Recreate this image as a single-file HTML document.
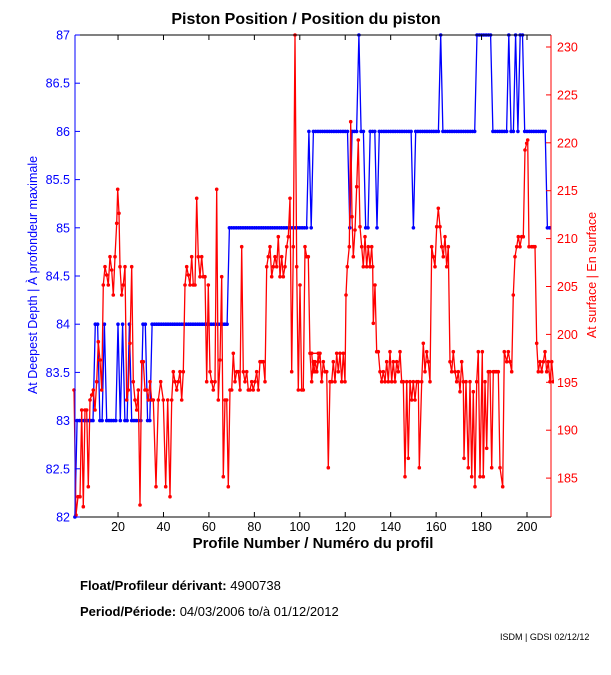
<!DOCTYPE html>
<html><head><meta charset="utf-8"><style>
body{margin:0;background:#fff;width:611px;height:675px;overflow:hidden}
svg{position:absolute;left:0;top:0}
text{font-family:"Liberation Sans",sans-serif}
</style></head><body>
<svg id="s" width="611" height="675" xmlns="http://www.w3.org/2000/svg">
<text x="306" y="24" text-anchor="middle" font-size="16" font-weight="bold">Piston Position / Position du piston</text>
<text x="313" y="548" text-anchor="middle" font-size="15" font-weight="bold">Profile Number / Numéro du profil</text>
<text transform="translate(37,275) rotate(-90)" text-anchor="middle" font-size="12.5" fill="#00f">At Deepest Depth | À profondeur maximale</text>
<text transform="translate(596,275) rotate(-90)" text-anchor="middle" font-size="12.5" fill="#f00">At surface | En surface</text>
<text x="80" y="590" font-size="13" font-weight="bold">Float/Profileur dérivant: <tspan font-weight="normal">4900738</tspan></text>
<text x="80" y="616" font-size="13" font-weight="bold">Period/Période: <tspan font-weight="normal"> 04/03/2006  to/à  01/12/2012</tspan></text>
<text x="500" y="640" font-size="9">ISDM | GDSI 02/12/12</text>
<g id="g"></g>
</svg>
<script>
var g=document.getElementById('g'),NS="http://www.w3.org/2000/svg",h="";
var L=75,R=551,T=35,B=517;
h+='<defs><clipPath id="c"><rect x="'+(L-3)+'" y="'+(T-3)+'" width="'+(R-L+6)+'" height="'+(B-T+6)+'"/></clipPath></defs>';
function px(p){return 72.6+2.272*p}
function by(v){return 517-(v-82)*96.4}
// blue
var bv={};var segs=[[1,1,82],[2,9,83],[10,11,84],[12,13,83],[14,14,84],[15,19,83],[20,20,84],[21,21,83],[22,22,84],[23,24,83],[25,25,84],[26,30,83],[31,32,84],[33,34,83],[35,68,84],[69,103,85],[104,104,86],[105,105,85],[106,121,86],[122,122,85],[123,125,86],[126,126,87],[127,128,86],[129,130,85],[131,133,86],[134,134,85],[135,149,86],[150,150,85],[151,161,86],[162,162,87],[163,177,86],[178,184,87],[185,191,86],[192,192,87],[193,194,86],[195,195,87],[196,196,86],[197,198,87],[199,208,86],[209,210,85]];
var bp=[];segs.forEach(function(s){for(var p=s[0];p<=s[1];p++)bp.push([px(p),by(s[2])])});
var r1=[[12,1080],[18,1455],[24,1400],[30,1400],[35,1140],[40,1430],[45,1140],[50,1140],[55,1370],[60,1110],[65,1095],[70,1080],[75,1140],[80,1055],[85,935],[90,990],[95,1080],[100,765],[105,710],[110,735],[115,765],[120,680],[125,720],[130,795],[135,680],[140,580],[143,478],[147,550],[150,710],[155,795],[160,765],[165,710],[170,1110],[175,1080],[180,940],[185,710],[190,1055],[195,1110],[200,1140],[205,1080],[210,1425],[215,995],[220,995],[225,1080],[230,1080],[235,1110],[240,1055],[245,1110],[250,1110],[258,1370],[265,1110],[272,1055],[280,1110],[287,1370],[293,1110],[300,1400],[305,1110],[310,1025],[315,1055],[320,1080],[325,1055],[330,1025],[335,1110],[340,1025],[345,765],[350,710],[355,735],[360,765],[365,680],[370,765],[375,765],[380,505],[385,680],[390,740],[395,680],[400,740],[405,740],[410,1055],[415,765],[420,1025],[425,1055],[430,1080],[435,1055],[440,478],[445,1110],[450,990],[455,740],[460,1340],[465,1110],[470,1110],[475,1370],[480,1080],[485,1080],[490,970],[495,1055],[500,1025],[505,1025],[510,1080],[515,650],[520,1025],[525,1055],[530,1025],[535,1080],[540,1080],[545,1055],[550,1080],[555,1055],[560,1025],[565,1080],[570,995],[575,995],[580,995],[585,1055],[590,710],[595,680],[600,650],[605,740],[610,710],[615,680],[620,710],[625,620],[630,740],[635,680],[640,740],[645,710],[650,650],[655,620],[660,505],[665,1025],[670,650],[675,15],[680,710],[685,1080],[690,765],[695,1080],[700,1080],[705,650],[710,680],[715,680],[720,970],[725,1055],[730,995],[735,1025],[740,1025],[745,970]];
var r2=[[5,970],[10,1025],[15,995],[20,1025],[25,995],[30,970],[35,1055],[40,995],[45,1025],[50,1025],[55,1313],[60,1055],[65,1055],[70,995],[75,1055],[80,970],[85,1025],[90,970],[95,1055],[100,970],[105,1055],[108,795],[112,710],[118,650],[122,275],[126,560],[130,680],[135,600],[140,470],[145,330],[150,590],[155,650],[160,710],[165,620],[170,710],[175,650],[180,710],[185,650],[188,710],[190,880],[195,765],[200,965],[205,965],[210,1025],[215,1055],[220,1025],[225,1055],[230,995],[235,1055],[240,965],[245,1055],[250,995],[255,1055],[260,995],[265,1025],[270,965],[275,1055],[280,1055],[285,1340],[290,1055],[295,1285],[300,1055],[305,1110],[310,1055],[315,1110],[320,1055],[325,1055],[328,1313],[335,1055],[340,940],[345,1025],[350,965],[355,995],[360,1055],[365,650],[370,680],[375,710],[380,590],[385,535],[390,590],[395,650],[400,680],[405,620],[410,710],[415,650],[420,995],[425,1025],[430,965],[435,1025],[440,1055],[445,1025],[450,1085],[455,995],[460,1055],[462,1285],[468,1055],[475,1313],[480,1055],[485,1340],[490,1085],[495,1370],[500,1055],[505,965],[510,1340],[517,965],[520,1340],[525,1055],[530,1255],[535,1025],[540,1025],[545,1313],[550,1025],[555,1025],[560,1025],[565,1025],[570,1313],[578,1370],[583,965],[590,995],[595,965],[600,995],[605,1025],[610,795],[615,680],[620,650],[625,620],[630,650],[635,620],[640,620],[645,360],[650,340],[653,330],[657,650],[665,650],[670,650],[675,650],[680,940],[685,1025],[690,995],[695,1025],[700,995],[705,965],[710,1025],[715,995],[720,1055],[725,995],[730,1055]];
var rp=[];r1.forEach(function(a){rp.push([70+a[0]/3,30+a[1]/3])});r2.forEach(function(a){rp.push([310+a[0]/3,30+a[1]/3])});
function series(pts,col){var s='<g clip-path="url(#c)"><polyline fill="none" stroke="'+col+'" stroke-width="1.3" points="'+pts.map(function(q){return q[0].toFixed(1)+','+q[1].toFixed(1)}).join(' ')+'"/>';
pts.forEach(function(q){s+='<circle cx="'+q[0].toFixed(1)+'" cy="'+q[1].toFixed(1)+'" r="1.8" fill="'+col+'"/>'});return s+'</g>';}
h+=series(bp,'#00f');h+=series(rp,'#f00');
// axes
h+='<line x1="'+L+'" y1="'+T+'" x2="'+R+'" y2="'+T+'" stroke="#000"/><line x1="'+L+'" y1="'+B+'" x2="'+R+'" y2="'+B+'" stroke="#000"/>';
h+='<line x1="'+L+'" y1="'+T+'" x2="'+L+'" y2="'+B+'" stroke="#00f"/><line x1="'+R+'" y1="'+T+'" x2="'+R+'" y2="'+B+'" stroke="#f00"/>';
for(var v=82;v<=87.001;v+=0.5){var y=by(v);h+='<line x1="'+L+'" y1="'+y+'" x2="'+(L+5)+'" y2="'+y+'" stroke="#00f"/>';
h+='<text x="70" y="'+(y+4.5)+'" text-anchor="end" font-size="12.5" fill="#00f">'+(v%1?v.toFixed(1):v)+'</text>';}
for(var w=185;w<=230;w+=5){var y=47+(230-w)*9.58;h+='<line x1="'+(R-5)+'" y1="'+y+'" x2="'+R+'" y2="'+y+'" stroke="#f00"/>';
h+='<text x="557" y="'+(y+4.5)+'" font-size="12.5" fill="#f00">'+w+'</text>';}
for(var p=20;p<=200;p+=20){var x=px(p);h+='<line x1="'+x+'" y1="'+B+'" x2="'+x+'" y2="'+(B-5)+'" stroke="#000"/><line x1="'+x+'" y1="'+T+'" x2="'+x+'" y2="'+(T+5)+'" stroke="#000"/>';
h+='<text x="'+x+'" y="531" text-anchor="middle" font-size="12.5">'+p+'</text>';}
g.innerHTML=h;
</script>
</body></html>
